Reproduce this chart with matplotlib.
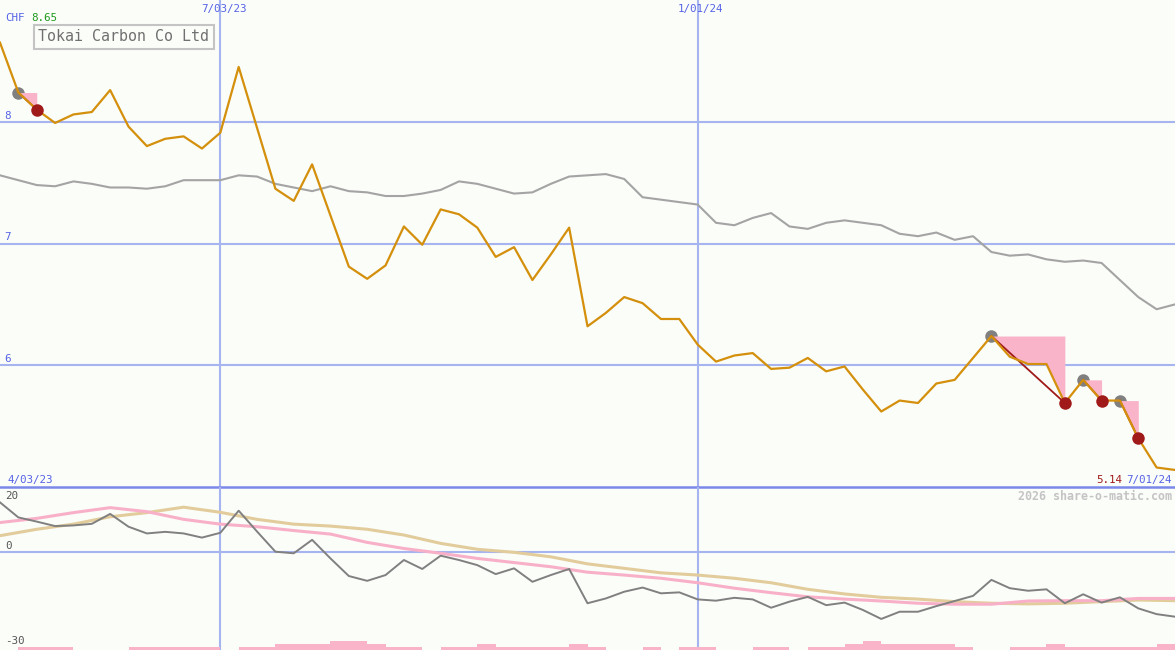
import numpy as np
import pandas as pd
import matplotlib
matplotlib.use("Agg")
import matplotlib.pyplot as plt

# ---------------- data ----------------
start_date = "2023-04-10"
price = [8.65, 8.24, 8.10, 7.99, 8.06, 8.08, 8.26, 7.96, 7.80, 7.86,
         7.88, 7.78, 7.91, 8.45, 7.95, 7.45, 7.35, 7.65, 7.23, 6.81,
         6.71, 6.82, 7.14, 6.99, 7.28, 7.24, 7.13, 6.89, 6.97, 6.70,
         6.91, 7.13, 6.32, 6.43, 6.56, 6.51, 6.38, 6.38, 6.17, 6.03,
         6.08, 6.10, 5.97, 5.98, 6.06, 5.95, 5.99, 5.80, 5.62, 5.71,
         5.69, 5.85, 5.88, 6.06, 6.24, 6.07, 6.01, 6.01, 5.69, 5.88,
         5.71, 5.71, 5.40, 5.16, 5.14]
relative = [7.56, 7.52, 7.48, 7.47, 7.51, 7.49, 7.46, 7.46, 7.45, 7.47,
            7.52, 7.52, 7.52, 7.56, 7.55, 7.49, 7.46, 7.43, 7.47, 7.43,
            7.42, 7.39, 7.39, 7.41, 7.44, 7.51, 7.49, 7.45, 7.41, 7.42,
            7.49, 7.55, 7.56, 7.57, 7.53, 7.38, 7.36, 7.34, 7.32, 7.17,
            7.15, 7.21, 7.25, 7.14, 7.12, 7.17, 7.19, 7.17, 7.15, 7.08,
            7.06, 7.09, 7.03, 7.06, 6.93, 6.90, 6.91, 6.87, 6.85, 6.86,
            6.84, 6.70, 6.56, 6.46, 6.50]
sell_idx = [1, 54, 59, 61]
stop_idx = [2, 58, 60, 62]

momentum = [15.4, 10.7, 9.4, 8.0, 8.2, 8.7, 11.8, 7.8, 5.7, 6.2,
            5.7, 4.4, 5.9, 12.8, 6.3, 0.0, -0.5, 3.7, -2.1, -7.6,
            -9.1, -7.3, -2.6, -5.4, -1.25, -2.6, -4.2, -7.0, -5.2, -9.4,
            -7.3, -5.4, -16.1, -14.6, -12.5, -11.2, -13.0, -12.7, -14.9, -15.3,
            -14.4, -14.9, -17.5, -15.6, -14.1, -16.7, -15.9, -18.2, -21.0, -18.75,
            -18.75, -17.0, -15.4, -13.8, -8.8, -11.4, -12.2, -11.75, -16.1, -13.3,
            -15.9, -14.25, -17.7, -19.5, -20.3]
# smoothed lines, read every second week
ma_pink = [9.1, 10.4, 12.2, 13.75, 12.5, 10.1, 8.6, 7.8, 6.6, 5.5,
           2.9, 1.0, -0.5, -2.1, -3.4, -4.7, -6.4, -7.3, -8.3, -9.7,
           -11.4, -12.8, -14.1, -14.8, -15.4, -16.1, -16.4, -16.4, -15.4, -15.3,
           -15.3, -14.6, -14.6]
ma_tan = [5.0, 7.0, 8.6, 10.9, 12.2, 13.9, 12.3, 10.1, 8.6, 8.0,
          7.0, 5.2, 2.6, 0.75, -0.2, -1.6, -3.8, -5.2, -6.6, -7.3,
          -8.3, -9.7, -11.75, -13.2, -14.25, -14.8, -15.6, -16.1, -16.3, -16.1,
          -15.6, -15.1, -15.3]
volume = [0, 1, 1, 1, 0, 0, 0, 1, 1, 1, 1, 1, 0, 1, 1, 2, 2, 2, 3, 3,
          2, 1, 1, 0, 1, 1, 2, 1, 1, 1, 1, 2, 1, 0, 0, 1, 0, 1, 1, 0,
          0, 1, 1, 0, 1, 1, 2, 3, 2, 2, 2, 2, 1, 0, 0, 1, 1, 2, 1, 1,
          1, 1, 1, 2]

grid_dates = ["2023-07-03", "2024-01-01"]
date_labels = ["4/03/23", "7/03/23", "1/01/24", "7/01/24"]
price_ticks = [6, 7, 8]
title = "Tokai Carbon Co Ltd"
currency = "CHF"
max_label = "8.65"
last_label = "5.14"
osc_labels = ["20", "0", "-30"]
copyright_text = "2026 share-o-matic.com"

# ---------------- style ----------------
W, H = 1175, 650
bg = "#fbfdf9"
grid_c = "#a6b4f0"
grid_dark = "#7a88ea"
label_blue = "#5563e6"
orange = "#d4900c"
rel_gray = "#a4a4a4"
pink = "#f9b4ca"
red = "#a01a1a"
mono = "DejaVu Sans Mono"

dates = pd.date_range(start_date, periods=len(price), freq="7D")
dates2 = dates[::2]
price = np.array(price)

fig = plt.figure(figsize=(W / 100, H / 100), dpi=100)
fig.patch.set_facecolor(bg)


def fx(x):
    return x / W


def fy(y):
    return 1 - y / H


ax = fig.add_axes([0, fy(487), 1, 487 / H])
ax2 = fig.add_axes([0, 0, 1, fy(487)])
for a in (ax, ax2):
    a.set_facecolor(bg)
    a.set_axis_off()
    a.set_xlim(dates[0], dates[-1])
    for g in grid_dates:
        a.axvline(pd.Timestamp(g), color=grid_c, lw=1.5, zorder=1)

ax.set_ylim(5.0, 9.0)
ax2.set_ylim(-30.7, 20.2)

# main gridlines
for t in price_ticks:
    ax.axhline(t, color=grid_c, lw=1.5, zorder=1)
    ax.text(0.004, t + 0.01, str(t), transform=ax.get_yaxis_transform(),
            color=label_blue, fontsize=7.8, family=mono, va="bottom", ha="left")
ax.axhline(5.0, color=grid_dark, lw=1.8, zorder=5, clip_on=False)

# relative line and price
ax.plot(dates, relative, color=rel_gray, lw=1.5, zorder=2)
ax.plot(dates[sell_idx], price[sell_idx], "o", color="#808080", ms=9, mec="none", zorder=3)
for s, e in zip(sell_idx, stop_idx):
    ax.fill_between(dates[s:e + 1], price[s:e + 1], price[s], color=pink, lw=0, zorder=4)
    ax.plot([dates[s], dates[e]], [price[s], price[e]], color=red, lw=1.3, zorder=5)
ax.plot(dates, price, color=orange, lw=1.6, zorder=6)
ax.plot(dates[stop_idx], price[stop_idx], "o", color=red, ms=9, mec="none", zorder=7)

# lower panel
ax2.axhline(0, color=grid_c, lw=1.5, zorder=1)
ax2.plot(dates2, ma_tan, color="#e2cc9c", lw=2.2, zorder=2)
ax2.plot(dates2, ma_pink, color="#f8b0c8", lw=2.2, zorder=3)
ax2.plot(dates, momentum, color="#808080", lw=1.4, zorder=4)

axv = ax2.twinx()
axv.set_axis_off()
axv.set_ylim(0, 54)
axv.set_xlim(dates[0], dates[-1])
axv.bar(dates[:-1], volume, width=7, align="edge", color=pink, lw=0)

# ---------------- texts ----------------
fs = 7.8
fig.text(fx(5), fy(18), currency, color=label_blue, fontsize=fs, family=mono, va="center")
fig.text(fx(31), fy(18), max_label, color="#1e9a1e", fontsize=fs, family=mono, va="center")
fig.text(fx(38), fy(36.5), title, color="#707070", fontsize=10.8, family=mono, va="center",
         ha="left",
         bbox=dict(boxstyle="square,pad=0.3", fc=bg, ec="#c4c4c4", lw=1.5))

fig.text(fx(7), fy(480), date_labels[0], color=label_blue, fontsize=fs, family=mono, va="center")
fig.text(fx(224), fy(9), date_labels[1], color=label_blue, fontsize=fs, family=mono,
         va="center", ha="center")
fig.text(fx(700), fy(9), date_labels[2], color=label_blue, fontsize=fs, family=mono,
         va="center", ha="center")
fig.text(fx(1172), fy(480), date_labels[3], color=label_blue, fontsize=fs, family=mono,
         va="center", ha="right")
fig.text(fx(1122), fy(480), last_label, color=red, fontsize=fs, family=mono,
         va="center", ha="right")
fig.text(fx(1172), fy(496), copyright_text, color="#c4c4c4", fontsize=8.4, family=mono,
         va="center", ha="right", fontweight="bold")

fig.text(fx(5), fy(496), osc_labels[0], color="#555555", fontsize=fs, family=mono, va="center")
fig.text(fx(5), fy(546), osc_labels[1], color="#555555", fontsize=fs, family=mono, va="center")
fig.text(fx(5), fy(641), osc_labels[2], color="#555555", fontsize=fs, family=mono, va="center")

fig.savefig("out.png", dpi=100, facecolor=bg)
